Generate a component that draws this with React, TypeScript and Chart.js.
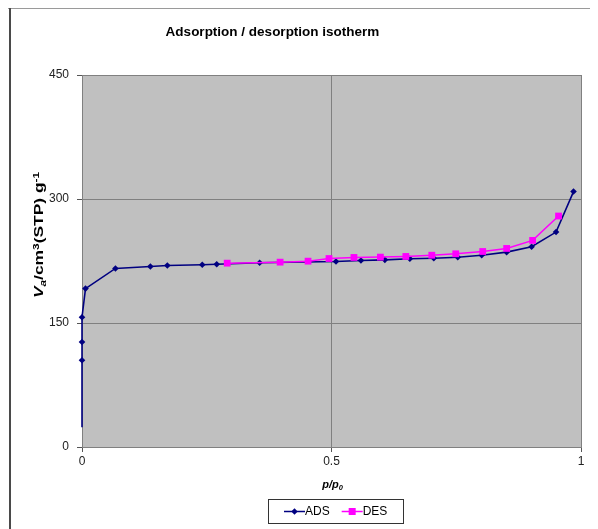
import React, { useEffect, useRef } from "react";
import { Chart, registerables } from "chart.js";

Chart.register(...registerables);

// Adsorption branch: relative pressure p/p0 and adsorbed volume (cm3(STP)/g)
const adsPressure = [0, 0, 0, 0, 0.007, 0.067, 0.137, 0.171, 0.241, 0.27, 0.356, 0.509, 0.559, 0.607, 0.657, 0.705, 0.753, 0.801, 0.851, 0.901, 0.95, 0.985];
const adsVolume = [24, 105, 127, 157, 191.6, 216, 218.3, 219.5, 220.4, 221, 222.8, 224.4, 225.6, 226.4, 227.7, 228.4, 229.6, 232, 235.7, 242.2, 260, 309];

// Desorption branch
const desPressure = [0.291, 0.397, 0.453, 0.495, 0.545, 0.598, 0.649, 0.701, 0.749, 0.803, 0.851, 0.903, 0.955];
const desVolume = [222.4, 223.6, 224.8, 228, 229.3, 229.7, 230.5, 232, 233.7, 236.5, 240.2, 249.9, 279.4];

const xTickValues = [0, 0.5, 1];
const yTickValues = [0, 150, 300, 450];

const seriesNames = ["ADS", "DES"];
const titleText = "Adsorption / desorption isotherm";

const FAMILY = '"Liberation Sans", Arial, sans-serif';

type Run = { text: string; italic?: boolean; shift?: "sub" | "sup" };

const yTitleRuns: Run[] = [
  { text: "V", italic: true },
  { text: "a", italic: true, shift: "sub" },
  { text: "/cm" },
  { text: "3", shift: "sup" },
  { text: "(STP) g" },
  { text: "-1", shift: "sup" },
];

const xTitleRuns: Run[] = [
  { text: "p", italic: true },
  { text: "/", italic: true },
  { text: "p", italic: true },
  { text: "0", italic: true, shift: "sub" },
];

function runFont(r: Run, size: number) {
  const s = r.shift ? size * 0.68 : size;
  return `${r.italic ? "italic " : ""}bold ${s}px ${FAMILY}`;
}

// Draws a line of mixed-style text centred on (0, 0).
function drawRuns(ctx: CanvasRenderingContext2D, runs: Run[], size: number) {
  let total = 0;
  const widths = runs.map((r) => {
    ctx.font = runFont(r, size);
    const w = ctx.measureText(r.text).width;
    total += w;
    return w;
  });
  let x = -total / 2;
  const base = size * 0.36;
  ctx.textBaseline = "alphabetic";
  ctx.textAlign = "left";
  runs.forEach((r, i) => {
    ctx.font = runFont(r, size);
    let y = base;
    if (r.shift === "sub") y += size * 0.22;
    if (r.shift === "sup") y -= size * 0.38;
    ctx.fillText(r.text, x, y);
    x += widths[i];
  });
}

const decorPlugin = {
  id: "isothermDecor",
  beforeDraw(chart: any) {
    const { ctx, width, height, chartArea } = chart;
    ctx.save();
    ctx.fillStyle = "#ffffff";
    ctx.fillRect(0, 0, width, height);
    // outer frame (top and left edges)
    ctx.fillStyle = "#9a9a9a";
    ctx.fillRect(0, 0, width, 1);
    ctx.fillStyle = "#4a4a4a";
    ctx.fillRect(1, 0, 2, height);
    // plot background
    ctx.fillStyle = "#c0c0c0";
    ctx.fillRect(chartArea.left, chartArea.top, chartArea.right - chartArea.left, chartArea.bottom - chartArea.top);
    ctx.restore();
  },
  afterDraw(chart: any) {
    const { ctx, chartArea } = chart;
    ctx.save();
    ctx.fillStyle = "#000000";

    // chart title
    ctx.font = `bold 13.5px ${FAMILY}`;
    ctx.textAlign = "center";
    ctx.textBaseline = "middle";
    ctx.fillText(titleText, 264.5, 24.5);

    // y axis title (rotated)
    ctx.save();
    ctx.translate(31, 227);
    ctx.rotate(-Math.PI / 2);
    ctx.scale(1.45, 1);
    drawRuns(ctx, yTitleRuns, 12);
    ctx.restore();

    // x axis title
    ctx.save();
    ctx.translate((chartArea.left + chartArea.right) / 2 + 1, 476);
    drawRuns(ctx, xTitleRuns, 11);
    ctx.restore();

    // legend box
    const boxL = 260, boxT = 491, boxR = 395, boxB = 515;
    ctx.strokeStyle = "#333333";
    ctx.lineWidth = 1;
    ctx.strokeRect(boxL + 0.5, boxT + 0.5, boxR - boxL, boxB - boxT);
    const midY = (boxT + boxB) / 2 + 0.5;
    const items = chart.data.datasets;
    let x = boxL + 16;
    ctx.font = `12px ${FAMILY}`;
    ctx.textAlign = "left";
    ctx.textBaseline = "middle";
    items.forEach((ds: any) => {
      ctx.strokeStyle = ds.borderColor;
      ctx.lineWidth = 1.5;
      ctx.beginPath();
      ctx.moveTo(x, midY);
      ctx.lineTo(x + 21, midY);
      ctx.stroke();
      ctx.fillStyle = ds.backgroundColor;
      const cx = x + 10.5;
      if (ds.pointStyle === "rect") {
        ctx.fillRect(cx - 3.5, midY - 3.5, 7, 7);
      } else {
        ctx.beginPath();
        ctx.moveTo(cx, midY - 3.2);
        ctx.lineTo(cx + 3.2, midY);
        ctx.lineTo(cx, midY + 3.2);
        ctx.lineTo(cx - 3.2, midY);
        ctx.closePath();
        ctx.fill();
      }
      ctx.fillStyle = "#000000";
      ctx.fillText(ds.label, x + 21, midY + 0.5);
      x += 21 + ctx.measureText(ds.label).width + 12;
    });
    ctx.restore();
  },
};

export default function App() {
  const canvasRef = useRef<HTMLCanvasElement | null>(null);

  useEffect(() => {
    const canvas = canvasRef.current;
    if (!canvas) return;
    const ads = adsPressure.map((p, i) => ({ x: p, y: adsVolume[i] }));
    const des = desPressure.map((p, i) => ({ x: p, y: desVolume[i] }));

    const chart = new Chart(canvas, {
      type: "scatter",
      data: {
        datasets: [
          {
            label: seriesNames[0],
            data: ads,
            showLine: true,
            borderColor: "#000080",
            backgroundColor: "#000080",
            borderWidth: 1.6,
            pointStyle: "rectRot",
            pointRadius: ads.map((_, i) => (i === 0 ? 0 : 3.3)),
            pointBorderWidth: 0,
            clip: 8,
            order: 1,
          },
          {
            label: seriesNames[1],
            data: des,
            showLine: true,
            borderColor: "#ff00ff",
            backgroundColor: "#ff00ff",
            borderWidth: 1.5,
            pointStyle: "rect",
            pointRadius: 4.8,
            pointBorderWidth: 0,
            clip: 8,
            order: 0,
          },
        ],
      },
      plugins: [decorPlugin],
      options: {
        animation: false,
        responsive: false,
        events: [],
        layout: { padding: { top: 67, right: 17, left: 0, bottom: 0 } },
        plugins: {
          legend: { display: false },
          title: { display: false },
          tooltip: { enabled: false },
        },
        scales: {
          x: {
            type: "linear",
            min: 0,
            max: 1,
            afterFit: (scale: any) => {
              scale.height = 82;
            },
            afterBuildTicks: (scale: any) => {
              scale.ticks = xTickValues.map((v) => ({ value: v }));
            },
            ticks: {
              color: "#222222",
              font: { family: FAMILY, size: 12 },
              padding: 2,
              maxRotation: 0,
              callback: (v: any) => String(v),
            },
            grid: {
              color: "#808080",
              lineWidth: 1,
              tickColor: "#555555",
              tickLength: 5,
            },
            border: { color: "#808080", width: 1 },
          },
          y: {
            type: "linear",
            min: 0,
            max: 450,
            afterFit: (scale: any) => {
              scale.width = 74;
            },
            afterBuildTicks: (scale: any) => {
              scale.ticks = yTickValues.map((v) => ({ value: v }));
            },
            ticks: {
              color: "#222222",
              font: { family: FAMILY, size: 12 },
              padding: 8,
              callback: (v: any) => String(v),
            },
            grid: {
              color: "#808080",
              lineWidth: 1,
              tickColor: "#555555",
              tickLength: 5,
            },
            border: { color: "#808080", width: 1 },
          },
        },
      },
    });
    return () => chart.destroy();
  }, []);

  return (
    <div style={{ width: 590, height: 521 }}>
      <canvas ref={canvasRef} width={590} height={521} style={{ display: "block" }} />
    </div>
  );
}
